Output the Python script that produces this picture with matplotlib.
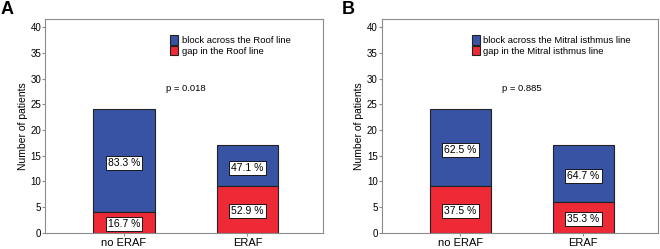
import matplotlib.pyplot as plt

plt.rcParams['font.family'] = ['Liberation Sans', 'DejaVu Sans']

groups = ['no ERAF', 'ERAF']

# panel A: roof line
roof_gap = [4, 9]
roof_block = [20, 8]
roof_gap_pct = ['16.7 %', '52.9 %']
roof_block_pct = ['83.3 %', '47.1 %']

# panel B: mitral isthmus line
mitral_gap = [9, 6]
mitral_block = [15, 11]
mitral_gap_pct = ['37.5 %', '35.3 %']
mitral_block_pct = ['62.5 %', '64.7 %']

blue = '#3953a4'
red = '#ee2a36'
gray = '#8c8c8c'

fig = plt.figure(figsize=(6.6, 2.49), dpi=100)


def panel(rect, gap, block, gap_pct, block_pct, line_name, p_text, leg_x):
    ax = fig.add_axes(rect)
    x = range(len(groups))
    ax.bar(x, block, 0.5, bottom=gap, color=blue, edgecolor='#222222',
           linewidth=0.8, label='block across the %s line' % line_name)
    ax.bar(x, gap, 0.5, color=red, edgecolor='#222222', linewidth=0.8,
           label='gap in the %s line' % line_name)
    box = dict(boxstyle='square,pad=0.2', fc='white', ec='black', lw=0.6)
    for i in x:
        ax.text(i, gap[i] / 2 - 0.3, gap_pct[i], ha='center', va='center',
                fontsize=7.5, bbox=box)
        ax.text(i, gap[i] + block[i] / 2 - 0.4, block_pct[i], ha='center',
                va='center', fontsize=7.5, bbox=box)
    ax.text(0.5, 28, p_text, ha='center', va='center', fontsize=6.8)
    ax.set_xlim(-0.64, 1.61)
    ax.set_ylim(0, 41.5)
    ax.set_yticks(range(0, 41, 5))
    ax.set_xticks(list(x))
    ax.set_xticklabels(groups, fontsize=8)
    ax.tick_params(axis='y', labelsize=7, length=2.3, color=gray, pad=0.5)
    ax.tick_params(axis='x', length=2.5, color=gray, pad=1)
    for s in ax.spines.values():
        s.set_color(gray)
        s.set_linewidth(0.8)
    ax.set_ylabel('Number of patients', fontsize=7.5, labelpad=2)
    ax.legend(loc='upper left', bbox_to_anchor=(leg_x, 0.925), fontsize=6.8,
              frameon=False, handlelength=0.9, handleheight=1.1,
              handletextpad=0.35, labelspacing=0.12, borderpad=0,
              borderaxespad=0)
    return ax


panel([45 / 660, 1 - 232.7 / 249, 277.7 / 660, 213.2 / 249],
      roof_gap, roof_block, roof_gap_pct, roof_block_pct, 'Roof',
      'p = 0.018', 0.45)
panel([381.7 / 660, 1 - 232.7 / 249, 276.6 / 660, 213.2 / 249],
      mitral_gap, mitral_block, mitral_gap_pct, mitral_block_pct,
      'Mitral isthmus', 'p = 0.885', 0.325)

fig.text(1 / 660, 1 - 1 / 249, 'A', fontsize=13, fontweight='bold', va='top')
fig.text(342 / 660, 1 - 1 / 249, 'B', fontsize=13, fontweight='bold', va='top')

fig.savefig('out.png', dpi=100)
